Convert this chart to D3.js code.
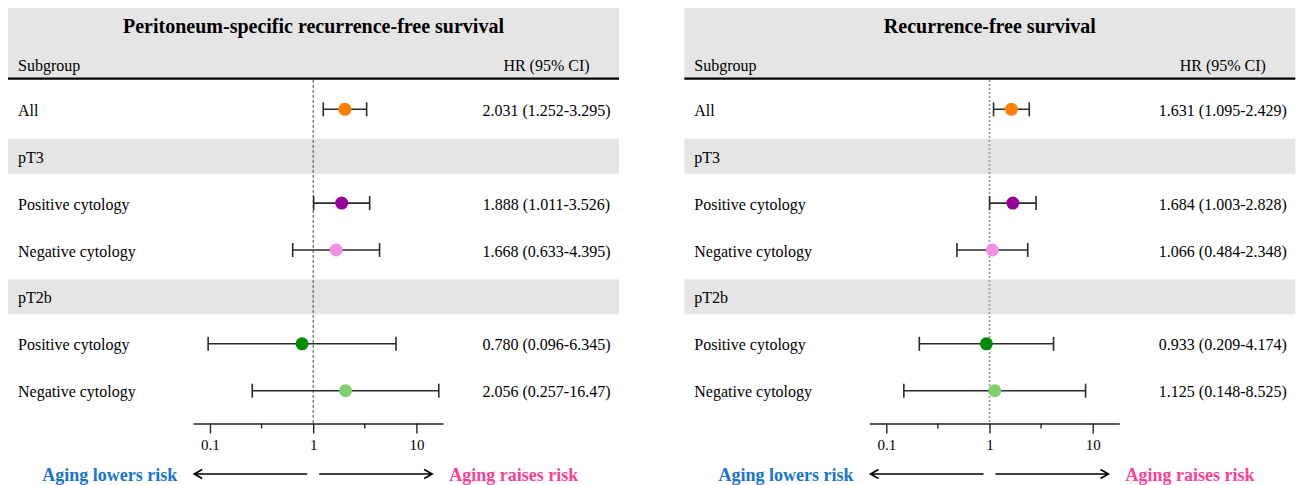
<!DOCTYPE html>
<html>
<head>
<meta charset="utf-8">
<script src="https://cdn.jsdelivr.net/npm/d3@7"></script>
<style>
	body { margin: 0; background: #ffffff; }
	svg text { font-family: "Liberation Serif", "Times New Roman", serif; fill: #000; }
</style>
</head>
<body>
<div id="forest-div"></div>
<script>
//
//  Chart data
//
const rowLabels = ["All", "pT3", "Positive cytology", "Negative cytology", "pT2b", "Positive cytology", "Negative cytology"];
const rowIsGroup = [false, true, false, false, true, false, false];
const pointColors = ["#FF7F00", null, "#990099", "#F490E4", null, "#008B00", "#80D070"];

const prfsTitle = "Peritoneum-specific recurrence-free survival";
const prfsHR    = [2.031, null, 1.888, 1.668, null, 0.780, 2.056];
const prfsLower = [1.252, null, 1.011, 0.633, null, 0.096, 0.257];
const prfsUpper = [3.295, null, 3.526, 4.395, null, 6.345, 16.47];
const prfsText  = ["2.031 (1.252-3.295)", "", "1.888 (1.011-3.526)", "1.668 (0.633-4.395)", "", "0.780 (0.096-6.345)", "2.056 (0.257-16.47)"];

const rfsTitle = "Recurrence-free survival";
const rfsHR    = [1.631, null, 1.684, 1.066, null, 0.933, 1.125];
const rfsLower = [1.095, null, 1.003, 0.484, null, 0.209, 0.148];
const rfsUpper = [2.429, null, 2.828, 2.348, null, 4.174, 8.525];
const rfsText  = ["1.631 (1.095-2.429)", "", "1.684 (1.003-2.828)", "1.066 (0.484-2.348)", "", "0.933 (0.209-4.174)", "1.125 (0.148-8.525)"];

const xDomain = [0.0685, 18.1];
const majorTicks = [0.1, 1, 10];
const majorTickLabels = ["0.1", "1", "10"];
const minorTicks = [0.3162, 3.162];
const refValue = 1;

/** Class drawing one forest plot panel. */
class ForestPanel {
	constructor(svg, left, opts) {
		this.svg = svg;
		this.left = left;
		this.opts = opts;
		this.panelWidth = 611;
		this.headerTop = 8;
		this.headerBottom = 78.7;
		this.bandHeight = 35;
		this.dotRadius = 6.5;
		this.capHalf = 7;
		this.valueCenter = 538.5;
		this.axisY = 423.5;
		this.arrowY = 474;

		this.x = d3.scaleLog()
			.domain(xDomain)
			.range([185, 435]);
		this.y = d3.scalePoint()
			.domain(d3.range(rowLabels.length))
			.range([109.3, 390.7]);
	}

	draw() {
		let g = this.svg.append('g')
			.attr('transform', 'translate(' + this.left + ',0)');
		let x = this.x, y = this.y, o = this.opts;

//  header box
		g.append('rect')
			.attr('x', 0).attr('y', this.headerTop)
			.attr('width', this.panelWidth)
			.attr('height', this.headerBottom - this.headerTop)
			.style('fill', '#e5e5e5');
		g.append('text')
			.attr('x', this.panelWidth / 2).attr('y', 32.5)
			.attr('text-anchor', 'middle')
			.style('font-weight', 'bold')
			.style('font-size', '20px')
			.text(o.title);
		g.append('text')
			.attr('x', 10).attr('y', 71)
			.style('font-size', '16px')
			.text('Subgroup');
		g.append('text')
			.attr('x', this.valueCenter).attr('y', 71)
			.attr('text-anchor', 'middle')
			.style('font-size', '16px')
			.text('HR (95% CI)');
		g.append('line')
			.attr('x1', 0).attr('x2', this.panelWidth)
			.attr('y1', this.headerBottom).attr('y2', this.headerBottom)
			.style('stroke', '#000').style('stroke-width', 2.2);

//  group bands
		let idx = d3.range(rowLabels.length);
		g.selectAll('rect.band')
			.data(idx.filter(i => rowIsGroup[i]))
			.enter()
			.append('rect')
			.attr('class', 'band')
			.attr('x', 0)
			.attr('y', i => y(i) - this.bandHeight / 2)
			.attr('width', this.panelWidth)
			.attr('height', this.bandHeight)
			.style('fill', '#e5e5e5');

//  reference line
		g.append('line')
			.attr('x1', x(refValue)).attr('x2', x(refValue))
			.attr('y1', this.headerBottom + 1.2).attr('y2', this.axisY)
			.style('stroke', o.refColor)
			.style('stroke-width', o.refWidth)
			.style('stroke-dasharray', o.refDash);

//  row labels and HR text
		g.selectAll('text.lbl')
			.data(idx)
			.enter()
			.append('text')
			.attr('class', 'lbl')
			.attr('x', 10)
			.attr('y', i => y(i) + 6.5)
			.style('font-size', '16px')
			.text(i => rowLabels[i]);
		g.selectAll('text.val')
			.data(idx.filter(i => !rowIsGroup[i]))
			.enter()
			.append('text')
			.attr('class', 'val')
			.attr('x', this.valueCenter)
			.attr('y', i => y(i) + 6.5)
			.attr('text-anchor', 'middle')
			.style('font-size', '16px')
			.text(i => o.text[i]);

//  error bars
		let est = idx.filter(i => !rowIsGroup[i]);
		let bars = g.selectAll('g.bar')
			.data(est)
			.enter()
			.append('g')
			.attr('class', 'bar')
			.style('stroke', '#2a2a2a')
			.style('stroke-width', 1.6);
		bars.append('line')
			.attr('x1', i => x(o.lower[i])).attr('x2', i => x(o.upper[i]))
			.attr('y1', i => y(i)).attr('y2', i => y(i));
		bars.append('line')
			.attr('x1', i => x(o.lower[i])).attr('x2', i => x(o.lower[i]))
			.attr('y1', i => y(i) - this.capHalf).attr('y2', i => y(i) + this.capHalf);
		bars.append('line')
			.attr('x1', i => x(o.upper[i])).attr('x2', i => x(o.upper[i]))
			.attr('y1', i => y(i) - this.capHalf).attr('y2', i => y(i) + this.capHalf);
		g.selectAll('circle.pt')
			.data(est)
			.enter()
			.append('circle')
			.attr('class', 'pt')
			.attr('cx', i => x(o.hr[i]))
			.attr('cy', i => y(i))
			.attr('r', this.dotRadius)
			.style('fill', i => pointColors[i]);

//  log axis
		let axis = g.append('g')
			.attr('transform', 'translate(0,' + this.axisY + ')')
			.call(d3.axisBottom(x)
				.tickValues(majorTicks)
				.tickFormat((d, i) => majorTickLabels[i])
				.tickSize(10)
				.tickSizeOuter(0)
				.tickPadding(6));
		axis.attr('font-size', 15)
			.attr('font-family', '"Liberation Serif", "Times New Roman", serif');
		axis.select('.domain').style('stroke', '#222').style('stroke-width', 1.6);
		axis.selectAll('.tick line').style('stroke', '#222').style('stroke-width', 1.4);
		axis.selectAll('.tick text')
			.style('font-size', '15px')
			.style('fill', '#000');
		axis.selectAll('line.minor')
			.data(minorTicks)
			.enter()
			.append('line')
			.attr('class', 'minor')
			.attr('x1', d => x(d)).attr('x2', d => x(d))
			.attr('y1', 0).attr('y2', 5)
			.style('stroke', '#222').style('stroke-width', 1.4);

//  direction arrows
		let xr = x(refValue);
		let arrows = [
			{from: xr - 6, to: xr - 119, dir: -1},
			{from: xr + 6, to: xr + 119, dir: 1}
		];
		g.selectAll('path.arrow')
			.data(arrows)
			.enter()
			.append('path')
			.attr('class', 'arrow')
			.attr('d', d => 'M' + d.from + ',' + this.arrowY + 'L' + d.to + ',' + this.arrowY +
				'M' + (d.to - d.dir * 8) + ',' + (this.arrowY - 4.5) + 'L' + d.to + ',' + this.arrowY +
				'L' + (d.to - d.dir * 8) + ',' + (this.arrowY + 4.5))
			.style('fill', 'none')
			.style('stroke', '#000')
			.style('stroke-width', 1.6);
		g.append('text')
			.attr('x', xr - 136).attr('y', this.arrowY + 6.5)
			.attr('text-anchor', 'end')
			.style('font-weight', 'bold')
			.style('font-size', '18px')
			.style('fill', '#1874CD')
			.text('Aging lowers risk');
		g.append('text')
			.attr('x', xr + 136).attr('y', this.arrowY + 6.5)
			.style('font-weight', 'bold')
			.style('font-size', '18px')
			.style('fill', '#FF3E96')
			.text('Aging raises risk');
	}
}

let svg = d3.select('#forest-div')
	.append('svg')
	.attr('width', 1302)
	.attr('height', 485);

new ForestPanel(svg, 8, {
	title: prfsTitle, hr: prfsHR, lower: prfsLower, upper: prfsUpper, text: prfsText,
	refColor: '#444', refWidth: 1, refDash: '3,2'
}).draw();

new ForestPanel(svg, 684.3, {
	title: rfsTitle, hr: rfsHR, lower: rfsLower, upper: rfsUpper, text: rfsText,
	refColor: '#999', refWidth: 1.6, refDash: '2,2'
}).draw();
</script>
</body>
</html>
